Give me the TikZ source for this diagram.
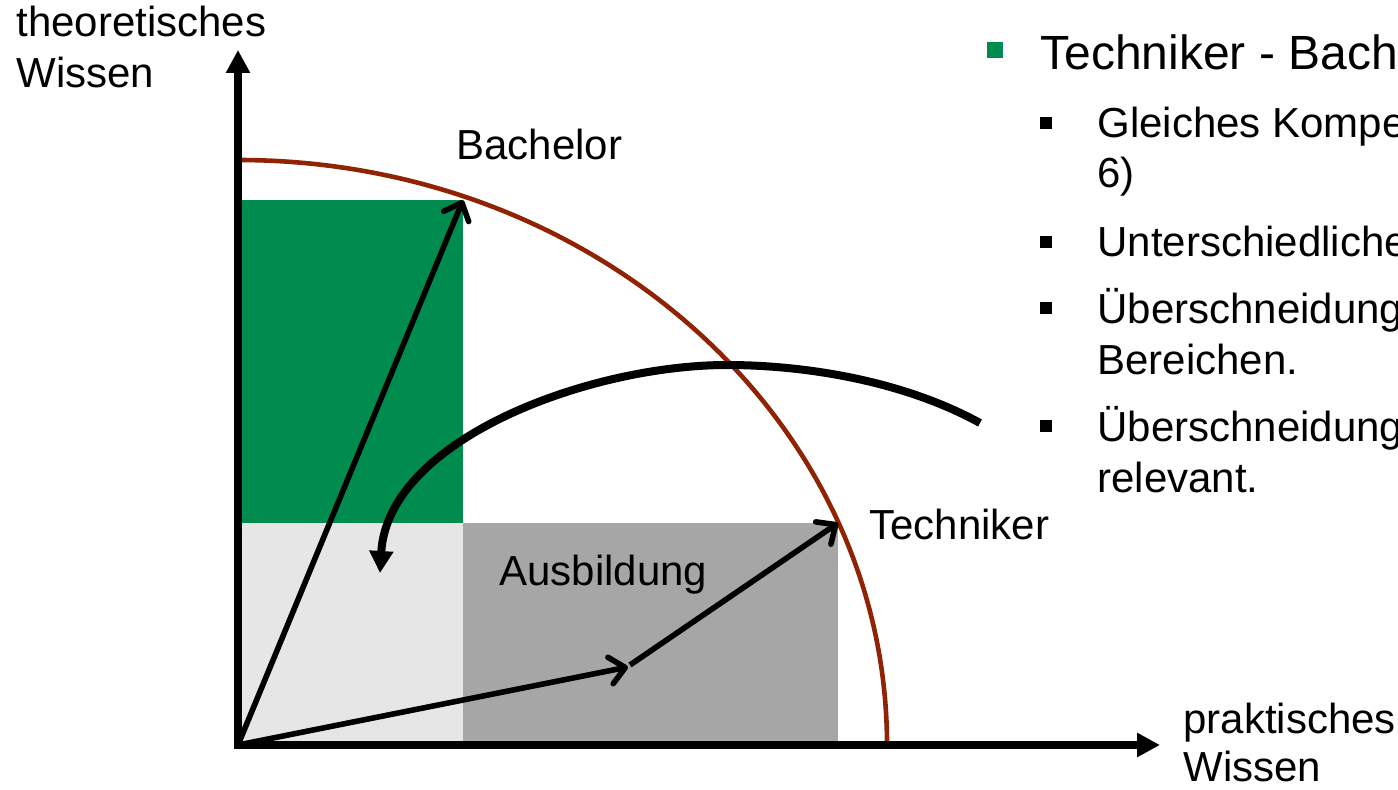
\documentclass[tikz,border=0pt]{standalone}
\usepackage{fontspec}
\setmainfont{Liberation Sans}
\usetikzlibrary{arrows.meta}

\begin{document}
\begin{tikzpicture}[x=.5pt,y=.5pt,font=\fontsize{21}{25}\selectfont,
 axis/.style={{Triangle[length=11.5pt,width=11.5pt]}-{Triangle[length=11.5pt,width=11.5pt]},line width=3.6pt},
 vec/.style={-{Straight Barb[length=7.5pt,width=13.5pt,round]},line width=2.8pt},
 turn/.style={-{Triangle[length=11pt,width=11.5pt]},line width=4pt},
 lbl/.style={inner sep=0pt,anchor=base west},
 subsq/.style={fill=black,inner sep=0pt,minimum size=6pt}]
\definecolor{bachgreen}{HTML}{008C4F}
\definecolor{arcred}{HTML}{912305}
\definecolor{ausgray}{HTML}{E6E6E6}
\definecolor{techgray}{HTML}{A6A6A6}
\useasboundingbox (0,0) rectangle (1398,789);
\clip (0,0) rectangle (1398,789);
\coordinate (O) at (238,44);
\coordinate (ytip) at (238,739);
\coordinate (xtip) at (1160,44);
\coordinate (bach) at (463,589);
\coordinate (tech) at (838,266);
\coordinate (mid) at (628,122);
\coordinate (midb) at (630,124);
\coordinate (arc0) at (887,44);
\coordinate (cstart) at (980,366);
\coordinate (ctop) at (727,424);
\coordinate (cend) at (380,216);
\fill[bachgreen] (O |- tech) rectangle (bach);
\fill[ausgray] (O) rectangle (bach |- tech);
\fill[techgray] (O -| bach) rectangle (tech);
\draw[arcred,line width=2.3pt] (arc0) arc[start angle=0,end angle=90,x radius=649,y radius=585];
\draw[axis] (ytip) -- (O) -- (xtip);
\draw[vec] (O) -- (bach);
\draw[vec] (O) -- (mid);
\draw[vec] (midb) -- (tech);
\draw[turn] (cstart) .. controls (900,410) and (800,424) .. (ctop)
 .. controls (590,424) and (388,350) .. (cend);
\node[lbl] (ylbl) at (16,752) {theoretisches};
\node[lbl] (ylblb) at (16,701) {Wissen};
\node[lbl] (xlbl) at (1183,56) {praktisches};
\node[lbl] (xlblb) at (1183,8) {Wissen};
\node[lbl] (bachlbl) at (456,629) {Bachelor};
\node[lbl] (techlbl) at (869,250) {Techniker};
\node[lbl] (auslbl) at (499,204) {Ausbildung};
\node[fill=bachgreen,inner sep=0pt,minimum size=8pt] (sq0) at (995,739) {};
\node[lbl,font=\fontsize{24}{29}\selectfont] (head) at (1040,719) {Techniker - Bach};
\node[subsq] (sq1) at (1046,666) {};
\node[lbl] (txt1) at (1097,651) {Gleiches Kompe};
\node[lbl] (txt1b) at (1097,601) {6)};
\node[subsq] (sq2) at (1046,547) {};
\node[lbl] (txt2) at (1097,532) {Unterschiedliche};
\node[subsq] (sq3) at (1046,481) {};
\node[lbl] (txt3) at (1097,466) {Überschneidung};
\node[lbl] (txt3b) at (1097,415) {Bereichen.};
\node[subsq] (sq4) at (1046,363) {};
\node[lbl] (txt4) at (1097,348) {Überschneidung};
\node[lbl] (txt4b) at (1097,297) {relevant.};
\end{tikzpicture}
\end{document}
